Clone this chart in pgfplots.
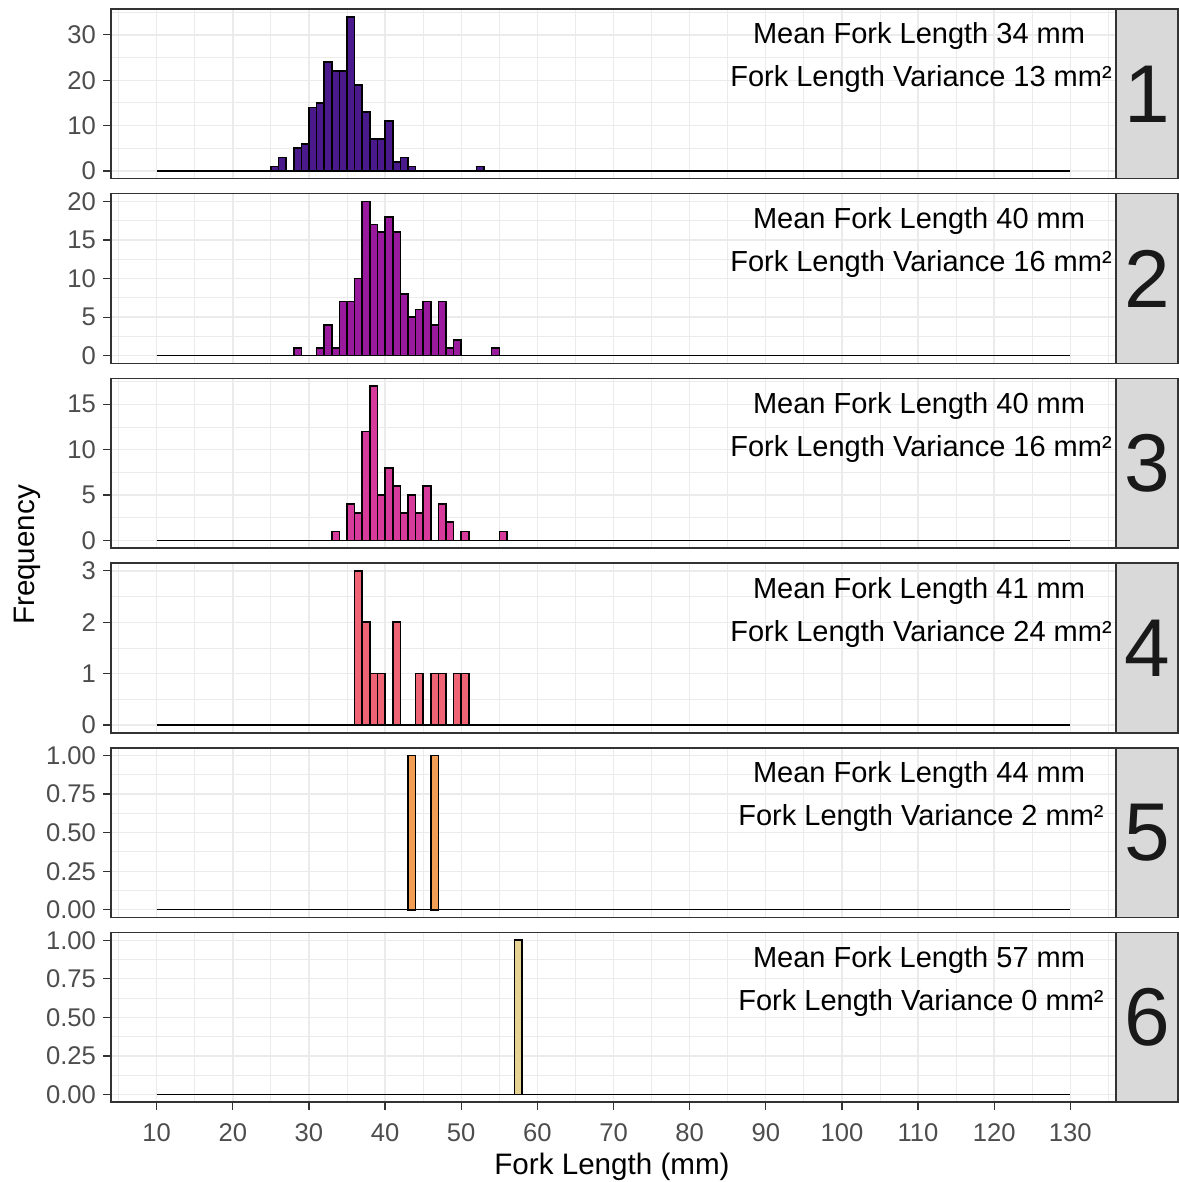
\documentclass[border=0pt]{standalone}
\usepackage{fontspec}
\setmainfont{Liberation Sans}
\usepackage{pgfplots}
\pgfplotsset{compat=1.18}

\definecolor{c1}{HTML}{4A1A8C}
\definecolor{c2}{HTML}{9A1A9E}
\definecolor{c3}{HTML}{D63A9A}
\definecolor{c4}{HTML}{EE6474}
\definecolor{c5}{HTML}{F29E55}
\definecolor{c6}{HTML}{E6D394}
\definecolor{gridgray}{HTML}{EBEBEB}
\definecolor{bordergray}{HTML}{333333}
\definecolor{labelgray}{HTML}{4D4D4D}
\definecolor{stripgray}{HTML}{D9D9D9}

\newcommand{\annot}[3]{%
  \node[anchor=base, font=\fontsize{14.5}{17}\selectfont] at ([yshift=-17.5pt]rel axis cs:0.804,1) {Mean Fork Length #1 mm};
  \node[anchor=base, font=\fontsize{14.5}{17}\selectfont] at ([yshift=-39pt]rel axis cs:0.806,1) {Fork Length Variance #2 mm²};
  \draw[fill=stripgray, draw=bordergray, line width=0.75pt] (rel axis cs:1,0) rectangle ([xshift=31pt]rel axis cs:1,1);
  \node[font=\fontsize{41}{41}\selectfont, text=black!90] at ([xshift=15.5pt]rel axis cs:1,0.5) {#3};
}

\pgfplotsset{
  facet/.style={
    scale only axis, width=502.5pt, height=84.85pt, anchor=north west,
    xmin=4, xmax=136, enlargelimits=false, clip=false,
    xtick={10,20,...,130}, minor xtick={5,15,...,135},
    grid=both,
    major grid style={gridgray, line width=0.7pt},
    minor grid style={gridgray, line width=0.45pt},
    axis line style={bordergray, line width=0.75pt},
    tick pos=left, tick align=outside,
    major tick length=4pt, minor tick length=0pt,
    tick style={bordergray, line width=0.6pt},
    ticklabel style={font=\fontsize{12.8}{14}\selectfont, text=labelgray},
    xticklabel style={yshift=-3pt},
    /pgf/number format/assume math mode=true,
    scaled y ticks=false,
  },
  nox/.style={xticklabels={}, xtick style={draw=none}},
  bars/.style={ybar, bar width=1, bar shift=0, fill=#1, draw=black, line width=0.8pt},
  zero/.style={sharp plot, black, line width=0.6pt, mark=none},
  frac/.style={ytick={0,0.25,0.5,0.75,1}, minor ytick={0.125,0.375,0.625,0.875},
    ymin=-0.05, ymax=1.05,
    yticklabel style={/pgf/number format/.cd, fixed, fixed zerofill, precision=2}},
}

\begin{document}
\begin{tikzpicture}
\useasboundingbox (-55.5pt,4.5pt) rectangle (533.5pt,-586.5pt);

% panel 1
\begin{axis}[facet, nox, at={(0pt,0pt)}, ymin=-1.7, ymax=35.7,
  ytick={0,10,20,30}, minor ytick={5,15,25,35}]
\addplot[zero] coordinates {(10,0) (130,0)};
\addplot[bars=c1] coordinates {(25.5,1) (26.5,3) (28.5,5) (29.5,6) (30.5,14) (31.5,15)
  (32.5,24) (33.5,22) (34.5,22) (35.5,34) (36.5,19) (37.5,13) (38.5,7) (39.5,7)
  (40.5,11) (41.5,2) (42.5,3) (43.5,1) (52.5,1)};
\annot{34}{13}{1}
\end{axis}

% panel 2
\begin{axis}[facet, nox, at={(0pt,-92.35pt)}, ymin=-1, ymax=21,
  ytick={0,5,10,15,20}, minor ytick={2.5,7.5,12.5,17.5}]
\addplot[zero] coordinates {(10,0) (130,0)};
\addplot[bars=c2] coordinates {(28.5,1) (31.5,1) (32.5,4) (33.5,1) (34.5,7) (35.5,7)
  (36.5,10) (37.5,20) (38.5,17) (39.5,16) (40.5,18) (41.5,16) (42.5,8) (43.5,5)
  (44.5,6) (45.5,7) (46.5,4) (47.5,7) (48.5,1) (49.5,2) (54.5,1)};
\annot{40}{16}{2}
\end{axis}

% panel 3
\begin{axis}[facet, nox, at={(0pt,-184.7pt)}, ymin=-0.85, ymax=17.85,
  ytick={0,5,10,15}, minor ytick={2.5,7.5,12.5,17.5}]
\addplot[zero] coordinates {(10,0) (130,0)};
\addplot[bars=c3] coordinates {(33.5,1) (35.5,4) (36.5,3) (37.5,12) (38.5,17) (39.5,5)
  (40.5,8) (41.5,6) (42.5,3) (43.5,5) (44.5,3) (45.5,6) (47.5,4) (48.5,2)
  (50.5,1) (55.5,1)};
\annot{40}{16}{3}
\end{axis}

% panel 4
\begin{axis}[facet, nox, at={(0pt,-277.05pt)}, ymin=-0.15, ymax=3.15,
  ytick={0,1,2,3}, minor ytick={0.5,1.5,2.5}]
\addplot[zero] coordinates {(10,0) (130,0)};
\addplot[bars=c4] coordinates {(36.5,3) (37.5,2) (38.5,1) (39.5,1) (41.5,2) (44.5,1)
  (46.5,1) (47.5,1) (49.5,1) (50.5,1)};
\annot{41}{24}{4}
\end{axis}

% panel 5
\begin{axis}[facet, nox, frac, at={(0pt,-369.4pt)}]
\addplot[zero] coordinates {(10,0) (130,0)};
\addplot[bars=c5] coordinates {(43.5,1) (46.5,1)};
\annot{44}{2}{5}
\end{axis}

% panel 6
\begin{axis}[facet, frac, at={(0pt,-461.75pt)}]
\addplot[zero] coordinates {(10,0) (130,0)};
\addplot[bars=c6] coordinates {(57.5,1)};
\annot{57}{0}{6}
\end{axis}

\node[font=\fontsize{14.8}{17}\selectfont] at (250.5pt,-579pt) {Fork Length (mm)};
\node[rotate=90, font=\fontsize{14.8}{17}\selectfont] at (-42pt,-273pt) {Frequency};
\end{tikzpicture}
\end{document}
